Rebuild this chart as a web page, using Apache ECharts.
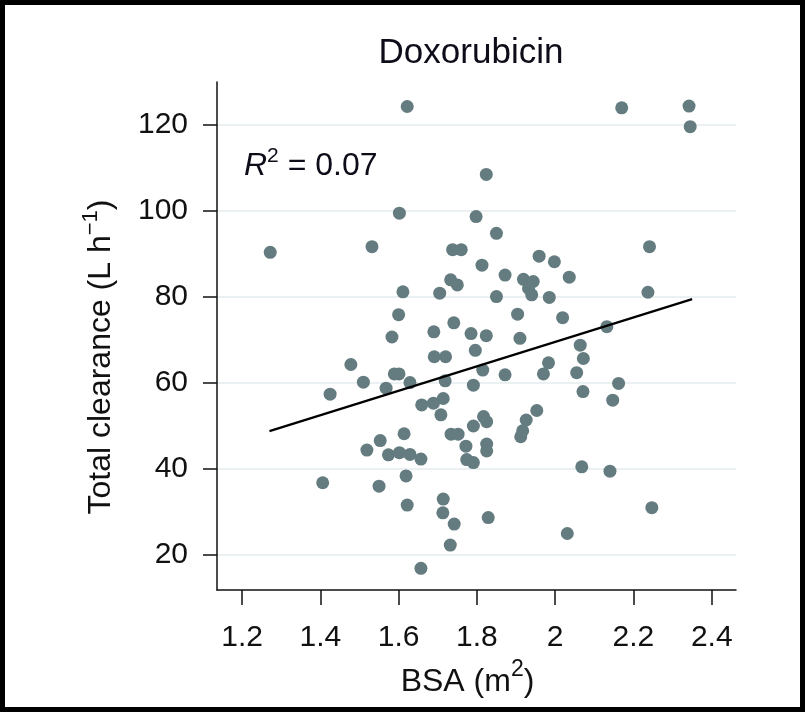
<!DOCTYPE html>
<html><head><meta charset="utf-8">
<script src="https://cdn.jsdelivr.net/npm/echarts@6/dist/echarts.min.js"></script>
<style>html,body{margin:0;padding:0;background:#fff}#c{width:812px;height:712px}</style>
</head><body><div id="c"></div>
<script>
// ---- data ----
const chartTitle = 'Doxorubicin';
const r2Value = '0.07';
const bsa = [
  1.622, 2.170, 2.342, 2.345, 1.824, 1.602, 1.798, 1.850, 1.272, 1.532,
  1.738, 1.760, 2.241, 1.959, 1.998, 1.813, 1.872, 2.036, 1.919, 1.944,
  1.932, 1.940, 1.733, 1.750, 1.611, 1.705, 1.850, 1.985, 2.237, 1.600,
  1.904, 2.019, 1.741, 2.132, 1.690, 1.785, 1.824, 1.583, 1.910, 2.064,
  1.796, 1.691, 1.720, 2.072, 1.983, 1.478, 1.815, 1.589, 1.601, 1.970,
  2.055, 1.872, 1.510, 1.629, 1.719, 2.162, 1.791, 1.568, 2.071, 1.425,
  2.147, 1.714, 1.689, 1.659, 1.953, 1.708, 1.817, 1.825, 1.926, 1.791,
  1.917, 1.912, 1.614, 1.734, 1.752, 1.553, 1.772, 1.825, 1.825, 1.519,
  1.574, 1.602, 1.629, 1.657, 1.774, 1.791, 2.068, 2.140, 1.619, 1.406,
  1.550, 1.714, 1.622, 2.247, 1.713, 1.829, 1.742, 2.031, 1.732, 1.657
];
const clearance = [
  124.3, 124.0, 124.4, 119.6, 108.5, 99.5, 98.7, 94.8, 90.4, 91.7,
  91.0, 91.0, 91.7, 89.5, 88.2, 87.4, 85.1, 84.6, 84.1, 83.6,
  82.0, 80.5, 84.0, 82.8, 81.2, 80.9, 80.1, 79.9, 81.1, 75.9,
  76.0, 75.2, 74.0, 73.1, 71.9, 71.5, 71.0, 70.7, 70.4, 68.8,
  67.6, 66.1, 66.1, 65.7, 64.7, 64.3, 63.0, 62.1, 62.1, 62.1,
  62.4, 61.9, 60.2, 60.1, 60.5, 59.9, 59.5, 58.8, 58.0, 57.4,
  56.0, 56.4, 55.3, 54.9, 53.6, 52.6, 52.2, 51.0, 51.4, 50.0,
  48.9, 47.5, 48.2, 48.1, 48.1, 46.6, 45.3, 45.8, 44.2, 44.4,
  43.3, 43.8, 43.4, 42.3, 42.2, 41.5, 40.5, 39.5, 38.4, 36.8,
  36.0, 33.0, 31.6, 31.0, 29.8, 28.7, 27.2, 25.0, 22.3, 16.9
];
const fitX = [1.27, 2.35];
const fitY = [48.8, 79.5];
const xTicks = [1.2, 1.4, 1.6, 1.8, 2.0, 2.2, 2.4];
const yTicks = [20, 40, 60, 80, 100, 120];
const xRange = [1.136, 2.462];
const yRange = [11.86, 130];

// ---- build ----
const FONT = 'Liberation Sans';
const INK = '#111';
const DARK = '#0d0d1a';
const points = bsa.map((x, i) => [x, clearance[i]]);
const fitLine = fitX.map((x, i) => [x, fitY[i]]);

const chart = echarts.init(document.getElementById('c'), null, {renderer: 'canvas'});
chart.setOption({
  backgroundColor: '#fff',
  animation: false,
  grid: {left: 217, right: 76, top: 82, bottom: 122, containLabel: false},
  xAxis: {
    type: 'value', min: xRange[0], max: xRange[1],
    name: '{b|BSA (m}{s|2}{b|)}',
    nameLocation: 'middle', nameGap: 72,
    nameTextStyle: {
      fontFamily: FONT, color: INK, padding: [0, 18, 0, 0],
      rich: {
        b: {fontFamily: FONT, fontSize: 32, color: INK},
        s: {fontFamily: FONT, fontSize: 23, color: INK, lineHeight: 23, padding: [0, 0, 26, 0]}
      }
    },
    axisLine: {show: true, onZero: false, lineStyle: {color: INK, width: 1.5}},
    axisTick: {show: true, inside: false, length: 15, customValues: xTicks, lineStyle: {color: INK, width: 1.5}},
    axisLabel: {customValues: xTicks, margin: 33, fontFamily: FONT, fontSize: 30, color: INK,
      formatter: v => String(+(+v).toFixed(1))},
    splitLine: {show: false}
  },
  yAxis: {
    type: 'value', min: yRange[0], max: yRange[1],
    name: '{b|Total clearance (L h}{s|\u22121}{b|)}',
    nameLocation: 'middle', nameGap: 100, nameRotate: 90,
    nameTextStyle: {
      fontFamily: FONT, color: INK, padding: [0, 42, 0, 0],
      rich: {
        b: {fontFamily: FONT, fontSize: 32, color: INK},
        s: {fontFamily: FONT, fontSize: 22, color: INK, lineHeight: 22, padding: [0, 0, 20, 0]}
      }
    },
    axisLine: {show: true, onZero: false, lineStyle: {color: INK, width: 1.5}},
    axisTick: {show: true, inside: false, length: 14, customValues: yTicks, lineStyle: {color: INK, width: 1.5}},
    axisLabel: {customValues: yTicks, margin: 29, fontFamily: FONT, fontSize: 30, color: INK},
    splitLine: {show: true, lineStyle: {color: '#e4ebee', width: 1.5}}
  },
  series: [
    {
      type: 'scatter', data: points, symbol: 'circle', symbolSize: 13,
      itemStyle: {color: '#647c80', opacity: 1}, z: 3
    },
    {
      type: 'line', data: fitLine, showSymbol: false, symbol: 'none',
      lineStyle: {color: '#000', width: 2.2}, z: 4
    }
  ],
  graphic: [
    {type: 'rect', silent: true, z: 100,
     shape: {x: 2.5, y: 2.5, width: 800, height: 707},
     style: {fill: 'none', stroke: '#000', lineWidth: 5}},
    {type: 'text', silent: true, x: 471, y: 53,
     style: {text: chartTitle, font: '35px "Liberation Sans"', fill: DARK,
             align: 'center', verticalAlign: 'middle'}},
    {type: 'text', silent: true, x: 244, y: 166,
     style: {text: '{r|R}{s|2}{t| = ' + r2Value + '}', align: 'left', verticalAlign: 'middle',
       rich: {
         r: {fontFamily: FONT, fontStyle: 'italic', fontSize: 32, fill: DARK},
         s: {fontFamily: FONT, fontSize: 21, fill: DARK, lineHeight: 21, padding: [0, 0, 20, 0]},
         t: {fontFamily: FONT, fontSize: 32, fill: DARK}
       }}}
  ]
});
</script>
</body></html>
